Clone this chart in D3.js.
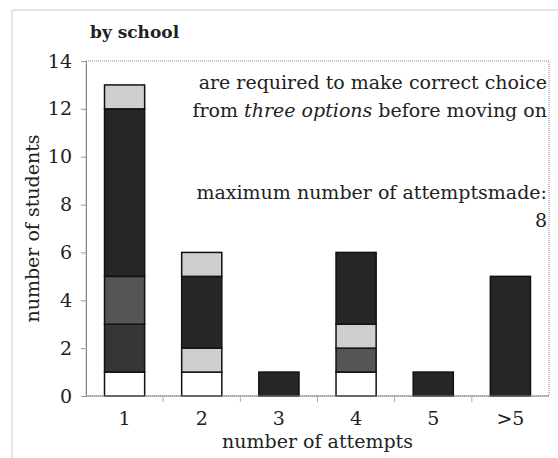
<!DOCTYPE html>
<html>
<head>
<meta charset="utf-8">
<script src="https://cdn.jsdelivr.net/npm/d3@7"></script>
<style>
  body { margin: 0; background: #fff; }
  text { font-family: "DejaVu Serif", serif; fill: #222; }
</style>
</head>
<body>
<div id="chart"></div>
<script>
// categories and stacked layers (bottom to top)
const attempts = ['1', '2', '3', '4', '5', '>5'];
const layerKeys = ['white', 'dark', 'mid', 'lightLow', 'black', 'lightTop'];
const white    = [1, 1, 0, 1, 0, 0];
const dark     = [2, 0, 0, 0, 0, 0];
const mid      = [2, 0, 0, 1, 0, 0];
const lightLow = [0, 1, 0, 1, 0, 0];
const black    = [7, 3, 1, 3, 1, 5];
const lightTop = [1, 1, 0, 0, 0, 0];
const yTicks = [0, 2, 4, 6, 8, 10, 12, 14];

const fills = {
    white: '#ffffff', dark: '#363636', mid: '#555555',
    lightLow: '#cfcfcf', black: '#262626', lightTop: '#cfcfcf'
};

const W = 558, H = 458;
const margin = { top: 61, right: 9, bottom: 62, left: 86 };
const width = W - margin.left - margin.right;
const height = H - margin.top - margin.bottom;
const FONT = '"DejaVu Serif", serif';

const rows = attempts.map((a, i) => ({
    cat: a, white: white[i], dark: dark[i], mid: mid[i],
    lightLow: lightLow[i], black: black[i], lightTop: lightTop[i]
}));

const svg = d3.select('#chart').append('svg')
    .attr('width', W).attr('height', H);

// faint outer frame (left and top edges)
svg.append('line').attr('x1', 12).attr('x2', 12).attr('y1', 10).attr('y2', H)
    .style('stroke', '#ddd').style('stroke-width', 1.5);
svg.append('line').attr('x1', 12).attr('x2', W).attr('y1', 10).attr('y2', 10)
    .style('stroke', '#ddd').style('stroke-width', 1.5);

const g = svg.append('g').attr('transform', `translate(${margin.left},${margin.top})`);

const x = d3.scaleBand().domain(attempts).range([0, width]).paddingInner(0.48).paddingOuter(0.24);
const y = d3.scaleLinear().domain([0, 14]).range([height, 0]);

// plot frame (dotted)
g.append('rect')
    .attr('width', width).attr('height', height)
    .style('fill', 'none').style('stroke', '#888')
    .style('stroke-width', 1).style('stroke-dasharray', '1,1');

// stacked bars
const stacked = d3.stack().keys(layerKeys)(rows);
g.selectAll('.layer')
    .data(stacked)
    .enter().append('g')
    .attr('class', 'layer')
    .style('fill', d => fills[d.key])
    .selectAll('rect')
    .data(d => d.filter(s => s[1] > s[0]))
    .enter().append('rect')
    .attr('x', d => x(d.data.cat))
    .attr('width', x.bandwidth())
    .attr('y', d => y(d[1]))
    .attr('height', d => y(d[0]) - y(d[1]))
    .style('stroke', '#111')
    .style('stroke-width', 1.5);

// y axis
const yAxis = g.append('g')
    .call(d3.axisLeft(y).tickValues(yTicks).tickSize(5).tickPadding(9));
yAxis.select('.domain').style('stroke', '#888');
yAxis.selectAll('.tick line').style('stroke', '#999');
yAxis.selectAll('text').style('font-size', '19px').style('font-family', FONT).style('fill', '#222');

// x axis: ticks between categories, labels at centres
const xb = g.append('g').attr('transform', `translate(0,${height})`);
xb.append('line').attr('x1', 0).attr('x2', width).style('stroke', '#888').style('stroke-width', 1.2);
const step = x.step();
xb.selectAll('.sep')
    .data(attempts.slice(1))
    .enter().append('line')
    .attr('x1', d => x(d) - (step - x.bandwidth()) / 2)
    .attr('x2', d => x(d) - (step - x.bandwidth()) / 2)
    .attr('y1', 0).attr('y2', 6)
    .style('stroke', '#aaa');
xb.selectAll('.lab')
    .data(attempts)
    .enter().append('text')
    .attr('x', d => x(d) + x.bandwidth() / 2)
    .attr('y', 29)
    .attr('text-anchor', 'middle')
    .style('font-size', '19px')
    .text(d => d);

// axis titles
svg.append('text')
    .attr('x', margin.left + width / 2).attr('y', 448)
    .attr('text-anchor', 'middle').style('font-size', '19px')
    .text('number of attempts');
svg.append('text')
    .attr('transform', `translate(39,${margin.top + height / 2}) rotate(-90)`)
    .attr('text-anchor', 'middle').style('font-size', '19px')
    .text('number of students');

// title
svg.append('text')
    .attr('x', 90).attr('y', 38)
    .style('font-size', '17px').style('font-weight', 'bold')
    .text('by school');

// annotations
const ax = margin.left + width - 2;
const note = svg.append('g').attr('text-anchor', 'end').style('font-size', '19px');
note.append('text').attr('x', ax).attr('y', 89).text('are required to make correct choice');
const l2 = note.append('text').attr('x', ax).attr('y', 117);
l2.append('tspan').text('from ');
l2.append('tspan').style('font-style', 'italic').text('three options');
l2.append('tspan').text('  before moving on');
note.append('text').attr('x', ax).attr('y', 199).text('maximum number of attemptsmade:');
note.append('text').attr('x', ax).attr('y', 227).text('8');
</script>
</body>
</html>
